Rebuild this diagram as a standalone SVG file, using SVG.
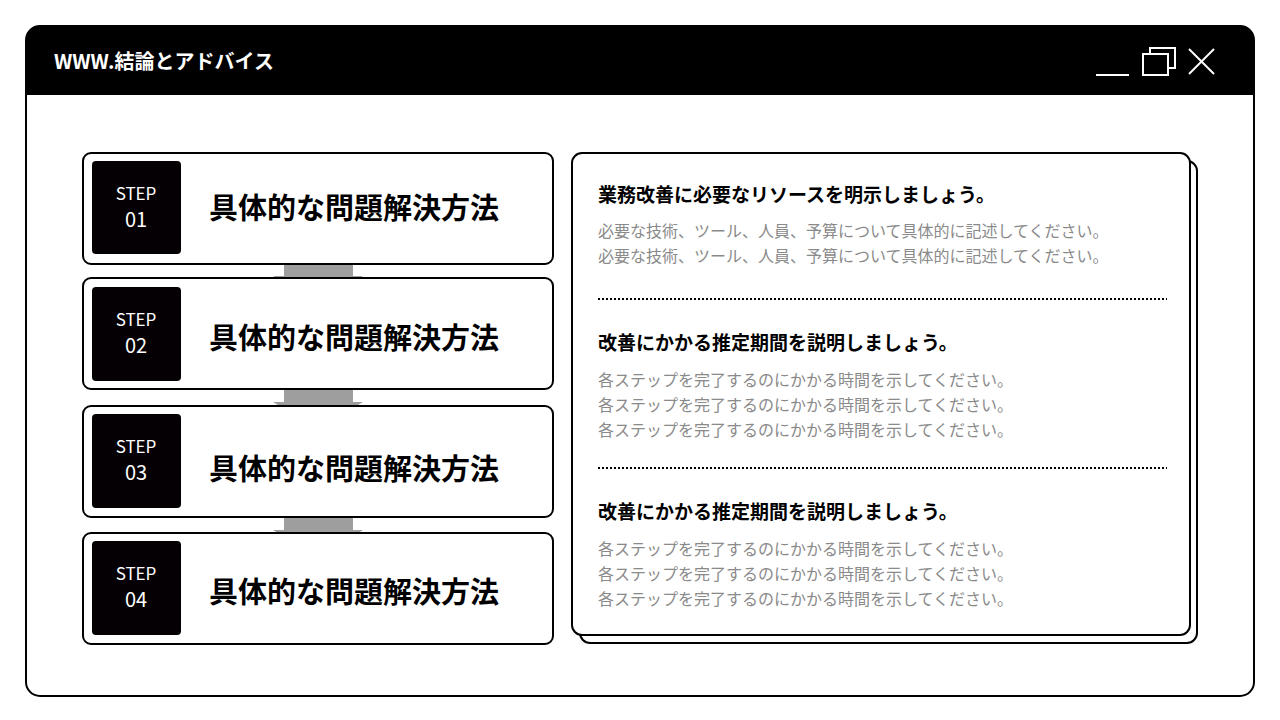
<svg xmlns="http://www.w3.org/2000/svg" width="1280" height="720" viewBox="0 0 1280 720">
<style>
.f{font-family:"Noto Sans CJK JP","Noto Sans",sans-serif}
.box{fill:#fff;stroke:#000;stroke-width:2}
.step{fill:#050003}
.sl{font-size:17px;fill:#fff;text-anchor:middle}
.sn{font-size:20px;fill:#fff;text-anchor:middle}
.st{font-size:29px;font-weight:bold;fill:#000}
.h{font-size:19px;font-weight:bold;fill:#000}
.b{font-size:16px;fill:#8a8a8a}
.dot{stroke:#000;stroke-width:2;stroke-dasharray:2 2}
.arr{fill:#9e9e9e}
</style>
<rect width="1280" height="720" fill="#fff"/>
<g id="window">
<rect x="26" y="26" width="1228" height="670" rx="14" fill="#fff" stroke="#000" stroke-width="2"/>
<path d="M26 40a14 14 0 0 1 14-14h1200a14 14 0 0 1 14 14v55H26z" fill="#000"/>
<text x="54" y="69" class="f" font-size="20" font-weight="bold" fill="#fff">WWW.結論とアドバイス</text>
<g stroke="#fff" stroke-width="2" fill="none">
<line x1="1096" y1="75" x2="1129" y2="75"/>
<rect x="1143" y="54" width="25" height="21"/>
<polyline points="1150,54 1150,48 1175,48 1175,68 1168,68"/>
<line x1="1189" y1="49" x2="1214" y2="74"/><line x1="1214" y1="49" x2="1189" y2="74"/>
</g>
</g>
<g id="connectors">
<path class="arr" d="M284 264h69v12h10l-45 27l-45-27h11z"/>
<path class="arr" d="M284 389h69v13h10l-45 27l-45-27h11z"/>
<path class="arr" d="M284 517h69v13h10l-45 27l-45-27h11z"/>
</g>
<g id="step1"><rect class="box" x="83" y="153" width="470" height="111" rx="8"/><rect class="step" x="92" y="161" width="89" height="93" rx="4"/>
<text class="f sl" x="136" y="200">STEP</text><text class="f sn" x="136" y="227">01</text><text class="f st" x="209" y="219">具体的な問題解決方法</text></g>
<g id="step2"><rect class="box" x="83" y="278" width="470" height="111" rx="8"/><rect class="step" x="92" y="287" width="89" height="94" rx="4"/>
<text class="f sl" x="136" y="326">STEP</text><text class="f sn" x="136" y="353">02</text><text class="f st" x="209" y="349">具体的な問題解決方法</text></g>
<g id="step3"><rect class="box" x="83" y="406" width="470" height="111" rx="8"/><rect class="step" x="92" y="414" width="89" height="94" rx="4"/>
<text class="f sl" x="136" y="453">STEP</text><text class="f sn" x="136" y="480">03</text><text class="f st" x="209" y="480">具体的な問題解決方法</text></g>
<g id="step4"><rect class="box" x="83" y="533" width="470" height="111" rx="8"/><rect class="step" x="92" y="541" width="89" height="94" rx="4"/>
<text class="f sl" x="136" y="580">STEP</text><text class="f sn" x="136" y="607">04</text><text class="f st" x="209" y="603">具体的な問題解決方法</text></g>
<g id="panel">
<rect class="box" x="580" y="161" width="617" height="482" rx="10"/>
<rect class="box" x="572" y="153" width="618" height="482" rx="10"/>
<text class="f h" x="598" y="202">業務改善に必要なリソースを明示しましょう。</text>
<text class="f b" x="598" y="237">必要な技術、ツール、人員、予算について具体的に記述してください。</text>
<text class="f b" x="598" y="262">必要な技術、ツール、人員、予算について具体的に記述してください。</text>
<line class="dot" x1="598" y1="299" x2="1167" y2="299"/>
<text class="f h" x="598" y="350">改善にかかる推定期間を説明しましょう。</text>
<text class="f b" x="598" y="386">各ステップを完了するのにかかる時間を示してください。</text>
<text class="f b" x="598" y="411">各ステップを完了するのにかかる時間を示してください。</text>
<text class="f b" x="598" y="436">各ステップを完了するのにかかる時間を示してください。</text>
<line class="dot" x1="598" y1="468" x2="1167" y2="468"/>
<text class="f h" x="598" y="519">改善にかかる推定期間を説明しましょう。</text>
<text class="f b" x="598" y="555">各ステップを完了するのにかかる時間を示してください。</text>
<text class="f b" x="598" y="580">各ステップを完了するのにかかる時間を示してください。</text>
<text class="f b" x="598" y="605">各ステップを完了するのにかかる時間を示してください。</text>
</g>
</svg>
